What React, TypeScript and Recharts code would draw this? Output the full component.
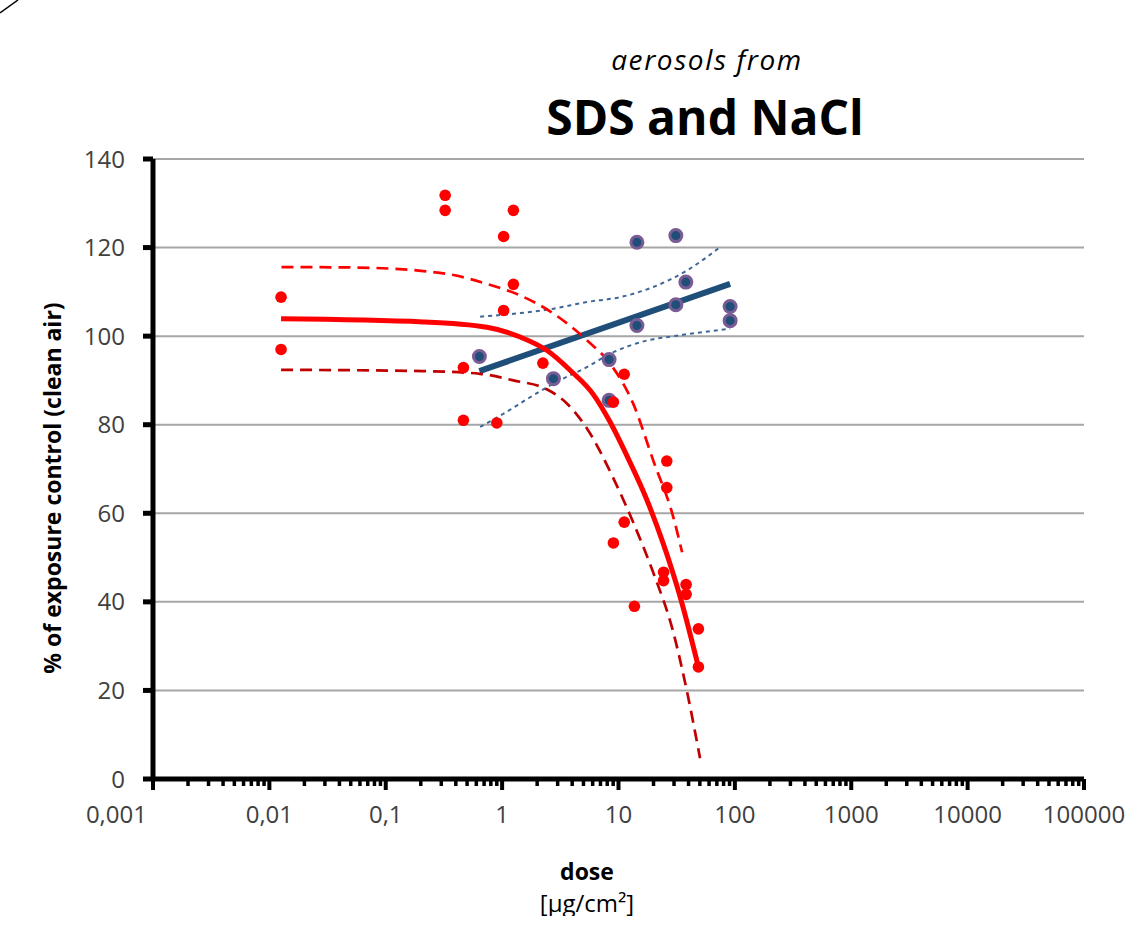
import React from 'react';
import { ComposedChart, Line, Scatter, XAxis, YAxis, CartesianGrid } from 'recharts';

const FONT = '"Open Sans", sans-serif';

// x axis (log), labels use a decimal comma
const majorTicks = [0.001, 0.01, 0.1, 1, 10, 100, 1000, 10000, 100000];
const tickLabels = ['0,001', '0,01', '0,1', '1', '10', '100', '1000', '10000', '100000'];
const minorSteps = [2, 3, 4, 5, 6, 7, 8, 9];
const yTicks = [0, 20, 40, 60, 80, 100, 120, 140];

// SDS: measured points (red)
const sdsDose = [0.0126, 0.0126, 0.324, 0.324, 1.25, 1.03, 1.25, 1.03, 0.465, 0.465, 0.9, 2.24, 11.2, 9.04, 26.0, 26.0, 11.2, 9.04, 13.7, 24.4, 24.4, 38.1, 38.1, 48.6, 48.6];
const sdsPct = [108.8, 97.0, 131.8, 128.4, 128.4, 122.5, 111.7, 105.8, 92.9, 81.0, 80.4, 93.9, 91.4, 85.1, 71.8, 65.8, 58.0, 53.3, 39.0, 46.7, 44.8, 43.9, 41.7, 33.9, 25.3];

// SDS: fitted curve and its confidence band
const sdsFitDose = [0.0126, 0.21, 0.74, 1.43, 2.42, 3.84, 6.09, 8.47, 12.1, 17.3, 24.2, 33.8, 48.6];
const sdsFitPct = [103.9, 103.2, 102.0, 99.8, 96.8, 92.3, 86.8, 80.6, 72.4, 63.4, 53.2, 41.2, 25.3];
const sdsUpDose = [0.0127, 0.0525, 0.21, 0.382, 0.74, 1.43, 2.76, 5.34, 8.47, 13.4, 19.9, 29.6, 35.2];
const sdsUpPct = [115.6, 115.5, 114.7, 113.8, 111.8, 109.2, 105.1, 99.1, 93.8, 84.7, 71.9, 59.1, 51.2];
const sdsLoDose = [0.0126, 0.21, 0.647, 1.25, 2.42, 3.6, 5.34, 9.04, 13.4, 19.9, 29.6, 38.6, 50.2];
const sdsLoPct = [92.4, 92.1, 91.5, 90.0, 88.0, 84.8, 79.2, 67.9, 57.9, 46.6, 33.1, 20.0, 4.7];

// NaCl: measured points (blue)
const naclDose = [14.4, 31.1, 37.9, 31.1, 91.0, 91.0, 14.4, 0.638, 8.3, 2.76, 8.3];
const naclPct = [121.2, 122.7, 112.2, 107.1, 106.7, 103.5, 102.4, 95.4, 94.7, 90.4, 85.5];

// NaCl: linear trend and its confidence band
const naclFitDose = [0.638, 91.0];
const naclFitPct = [92.1, 111.8];
const naclUpDose = [0.647, 1.43, 2.76, 5.34, 10.3, 19.9, 38.6, 74.6];
const naclUpPct = [104.4, 105.2, 106.2, 107.7, 108.8, 111.1, 114.8, 120.1];
const naclLoDose = [0.647, 1.03, 1.74, 2.76, 5.34, 8.47, 17.5, 31.7, 91.0];
const naclLoPct = [79.5, 82.5, 86.2, 89.3, 93.0, 96.0, 99.0, 100.1, 101.7];

const pts = (xs: number[], ys: number[]) => xs.map((x, i) => ({ x, y: ys[i] }));

const xTicks: number[] = [];
majorTicks.forEach((m, i) => {
  xTicks.push(m);
  if (i < majorTicks.length - 1) minorSteps.forEach((s) => xTicks.push(m * s));
});

function XTick(props: any) {
  const { x, y, payload } = props;
  const idx = majorTicks.indexOf(payload.value);
  const major = idx >= 0;
  // the first label sits left of the y axis, as in the original
  const first = idx === 0;
  return (
    <g>
      <line x1={x} x2={x} y1={y} y2={y + (major ? 11 : 7)} stroke='#000' strokeWidth={major ? 4 : 3.5} />
      {major && (
        <text x={first ? x - 6 : x} y={y + 44} textAnchor={first ? 'end' : 'middle'} fontSize={24} fill='#404040' fontFamily={FONT}>
          {tickLabels[idx]}
        </text>
      )}
    </g>
  );
}

const naclDot = (p: any) => <circle cx={p.cx} cy={p.cy} r={6} fill='#1F4E79' stroke='#7A5C94' strokeWidth={3} />;
const sdsDot = (p: any) => <circle cx={p.cx} cy={p.cy} r={5.8} fill='#FF0000' />;

export default function App() {
  return (
    <div style={{ position: 'absolute', left: 0, top: 0, width: 1127, height: 934, background: '#fff' }}>
      <ComposedChart width={1127} height={934} margin={{ top: 159, right: 43, bottom: 0, left: 0 }}>
        <CartesianGrid vertical={false} stroke='#A6A6A6' strokeWidth={2} />
        <XAxis
          type='number'
          dataKey='x'
          scale='log'
          domain={[0.001, 100000]}
          ticks={xTicks}
          interval={0}
          tick={<XTick />}
          tickLine={false}
          tickSize={0}
          tickMargin={0}
          axisLine={{ stroke: '#000', strokeWidth: 5 }}
          height={155}
          allowDataOverflow
        />
        <YAxis
          type='number'
          dataKey='y'
          domain={[0, 140]}
          ticks={yTicks}
          interval={0}
          width={153}
          tickSize={10}
          tickMargin={18}
          tickLine={{ stroke: '#000', strokeWidth: 5 }}
          axisLine={{ stroke: '#000', strokeWidth: 5 }}
          tick={{ fontSize: 24, fill: '#404040', fontFamily: FONT }}
        />
        <Line data={pts(naclUpDose, naclUpPct)} dataKey='y' type='monotone' stroke='#3F6696' strokeWidth={2} strokeDasharray='4 4' dot={false} activeDot={false} isAnimationActive={false} />
        <Line data={pts(naclLoDose, naclLoPct)} dataKey='y' type='monotone' stroke='#3F6696' strokeWidth={2} strokeDasharray='4 4' dot={false} activeDot={false} isAnimationActive={false} />
        <Line data={pts(naclFitDose, naclFitPct)} dataKey='y' type='linear' stroke='#1F4E79' strokeWidth={6} dot={false} activeDot={false} isAnimationActive={false} />
        <Scatter data={pts(naclDose, naclPct)} shape={naclDot} isAnimationActive={false} />
        <Line data={pts(sdsUpDose, sdsUpPct)} dataKey='y' type='monotone' stroke='#FF0000' strokeWidth={2.7} strokeDasharray='12 7' dot={false} activeDot={false} isAnimationActive={false} />
        <Line data={pts(sdsLoDose, sdsLoPct)} dataKey='y' type='monotone' stroke='#C00000' strokeWidth={2.7} strokeDasharray='12 7' dot={false} activeDot={false} isAnimationActive={false} />
        <Line data={pts(sdsFitDose, sdsFitPct)} dataKey='y' type='monotone' stroke='#FF0000' strokeWidth={5} dot={false} activeDot={false} isAnimationActive={false} />
        <Scatter data={pts(sdsDose, sdsPct)} shape={sdsDot} isAnimationActive={false} />
      </ComposedChart>
      <svg width={1127} height={934} style={{ position: 'absolute', left: 0, top: 0, pointerEvents: 'none' }}>
        <defs>
          <clipPath id='unitClip'>
            <rect x={0} y={0} width={1127} height={916} />
          </clipPath>
        </defs>
        <line x1={0} y1={13} x2={18} y2={0} stroke='#000' strokeWidth={1.5} />
        <text x={707} y={70} textAnchor='middle' fontSize={28} letterSpacing={1.6} fontStyle='italic' fill='#000' fontFamily={FONT}>
          aerosols from
        </text>
        <text x={705} y={135} textAnchor='middle' fontSize={48} fontWeight='bold' fill='#000' fontFamily={FONT}>
          SDS and NaCl
        </text>
        <text x={61} y={488} transform='rotate(-90 61 488)' textAnchor='middle' fontSize={23} fontWeight='bold' fill='#000' fontFamily={FONT}>
          % of exposure control (clean air)
        </text>
        <text x={587} y={880} textAnchor='middle' fontSize={23} fontWeight='bold' fill='#000' fontFamily={FONT}>
          dose
        </text>
        <text x={587} y={912} textAnchor='middle' fontSize={24} fill='#000' fontFamily={FONT} clipPath='url(#unitClip)'>
          {'[\u03BCg/cm\u00B2]'}
        </text>
      </svg>
    </div>
  );
}
